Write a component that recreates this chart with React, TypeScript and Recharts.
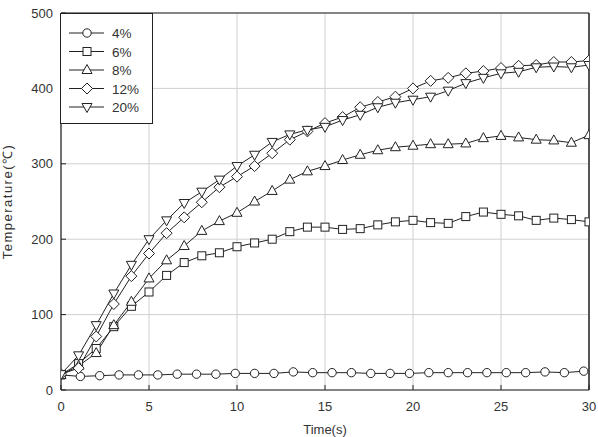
import React from 'react';
import {
  LineChart,
  Line,
  XAxis,
  YAxis,
  CartesianGrid,
  ReferenceLine,
  Label
} from 'recharts';

// time axis for the 6% .. 20% curves (one reading per second)
const timeSteps = [
  0, 1, 2, 3, 4, 5, 6, 7, 8, 9, 10, 11, 12, 13, 14, 15, 16, 17, 18, 19, 20,
  21, 22, 23, 24, 25, 26, 27, 28, 29, 30
];

// the 4% curve was sampled on its own time grid
const timeSteps4 = [
  0, 1.1, 2.2, 3.3, 4.4, 5.5, 6.6, 7.7, 8.8, 9.9, 11, 12.1, 13.2, 14.3, 15.4,
  16.5, 17.6, 18.7, 19.8, 20.9, 22, 23.1, 24.2, 25.3, 26.4, 27.5, 28.6, 29.7
];
const temp4 = [
  20, 18, 19, 20, 20, 20, 21, 21, 21, 22, 22, 22, 24, 23, 23, 23, 22, 22, 22,
  23, 23, 23, 23, 23, 23, 24, 23, 25
];
const temp6 = [
  20, 35, 55, 84, 111, 130, 152, 169, 178, 182, 190, 195, 200, 210, 216, 216,
  213, 214, 219, 223, 225, 222, 221, 230, 236, 233, 231, 225, 228, 226, 223
];
const temp8 = [
  20, 32, 49, 86, 117, 148, 172, 191, 211, 224, 235, 250, 264, 279, 290, 297,
  305, 312, 318, 322, 324, 326, 326, 327, 334, 337, 335, 332, 331, 328, 338
];
const temp12 = [
  21, 29, 71, 114, 151, 181, 208, 229, 249, 269, 283, 297, 314, 332, 343, 354,
  362, 375, 382, 389, 400, 410, 414, 420, 423, 427, 430, 431, 435, 435, 437
];
const temp20 = [
  21, 46, 86, 128, 166, 200, 225, 248, 263, 279, 297, 312, 329, 339, 345, 349,
  358, 365, 375, 381, 385, 389, 397, 407, 414, 420, 422, 428, 429, 428, 431
];

const xTicks = [0, 5, 10, 15, 20, 25, 30];
const yTicks = [0, 100, 200, 300, 400, 500];

const INK = '#222';
const TEXT = '#333';
const FONT = 'Arial, "Liberation Sans", Helvetica, sans-serif';

type Shape = 'circle' | 'square' | 'up' | 'diamond' | 'down';

function marker(shape: Shape, cx: number, cy: number, key?: string) {
  const common = { fill: '#fff', stroke: INK, strokeWidth: 1 };
  switch (shape) {
    case 'circle':
      return <circle key={key} cx={cx} cy={cy} r={4.2} {...common} />;
    case 'square':
      return <rect key={key} x={cx - 4} y={cy - 4} width={8} height={8} {...common} />;
    case 'up':
      return (
        <polygon
          key={key}
          points={`${cx},${cy - 5.5} ${cx - 5},${cy + 3.5} ${cx + 5},${cy + 3.5}`}
          {...common}
        />
      );
    case 'down':
      return (
        <polygon
          key={key}
          points={`${cx},${cy + 5.5} ${cx - 5},${cy - 3.5} ${cx + 5},${cy - 3.5}`}
          {...common}
        />
      );
    default:
      return (
        <polygon
          key={key}
          points={`${cx},${cy - 5.5} ${cx + 5.5},${cy} ${cx},${cy + 5.5} ${cx - 5.5},${cy}`}
          {...common}
        />
      );
  }
}

const dotFor = (shape: Shape) => (props: any) =>
  marker(shape, props.cx, props.cy, `${shape}-${props.index}`);

const toPoints = (xs: number[], ys: number[]) =>
  xs.map((t, i) => ({ t, v: ys[i] }));

const series = [
  { name: '4%', shape: 'circle' as Shape, data: toPoints(timeSteps4, temp4) },
  { name: '6%', shape: 'square' as Shape, data: toPoints(timeSteps, temp6) },
  { name: '8%', shape: 'up' as Shape, data: toPoints(timeSteps, temp8) },
  { name: '12%', shape: 'diamond' as Shape, data: toPoints(timeSteps, temp12) },
  { name: '20%', shape: 'down' as Shape, data: toPoints(timeSteps, temp20) }
];

function LegendBox() {
  return (
    <div
      style={{
        position: 'absolute',
        left: 60,
        top: 13,
        width: 93,
        height: 111,
        boxSizing: 'border-box',
        border: `1px solid ${INK}`,
        background: '#fff'
      }}
    >
      <svg width={93} height={111} style={{ position: 'absolute', left: -1, top: -1 }}>
        {series.map((s, i) => {
          const y = 20 + i * 18.5;
          return (
            <g key={s.name}>
              <line x1={9} x2={44} y1={y} y2={y} stroke={INK} strokeWidth={1} />
              {marker(s.shape, 27, y)}
              <text
                x={52}
                y={y + 5}
                fontSize={13.5}
                fontFamily={FONT}
                fill={TEXT}
              >
                {s.name}
              </text>
            </g>
          );
        })}
      </svg>
    </div>
  );
}

export default function App() {
  return (
    <div style={{ position: 'absolute', left: 0, top: 0, width: 598, height: 437 }}>
      <LineChart
        width={598}
        height={437}
        margin={{ top: 13, right: 9, bottom: 0, left: 0 }}
      >
        <CartesianGrid stroke="#d0d0d0" strokeWidth={1} />
        <XAxis
          type="number"
          dataKey="t"
          domain={[0, 30]}
          ticks={xTicks}
          height={47}
          tickSize={-5}
          tickMargin={17}
          axisLine={{ stroke: INK, strokeWidth: 1.2 }}
          tickLine={{ stroke: INK }}
          tick={{ fill: TEXT, fontSize: 13, fontFamily: FONT }}
          allowDataOverflow
        >
          <Label
            value="Time(s)"
            position="insideBottom"
            offset={3}
            style={{ fill: TEXT, fontSize: 13, fontFamily: FONT }}
          />
        </XAxis>
        <YAxis
          type="number"
          dataKey="v"
          domain={[0, 500]}
          ticks={yTicks}
          width={61}
          tickSize={-5}
          tickMargin={13}
          axisLine={{ stroke: INK, strokeWidth: 1.2 }}
          tickLine={{ stroke: INK }}
          tick={{ fill: TEXT, fontSize: 13, fontFamily: FONT }}
          allowDataOverflow
        >
          <Label
            value="Temperature(℃)"
            angle={-90}
            position="insideLeft"
            offset={7}
            style={{
              fill: TEXT,
              fontSize: 13,
              fontFamily: FONT,
              textAnchor: 'middle',
              letterSpacing: 1.5
            }}
          />
        </YAxis>
        <ReferenceLine x={30} stroke="#555" strokeWidth={2} />
        <ReferenceLine y={500} stroke={INK} strokeWidth={1} />
        {series.map((s) => (
          <Line
            key={s.name}
            data={s.data}
            dataKey="v"
            name={s.name}
            type="linear"
            stroke={INK}
            strokeWidth={1}
            dot={dotFor(s.shape)}
            activeDot={false}
            isAnimationActive={false}
          />
        ))}
      </LineChart>
      <LegendBox />
    </div>
  );
}
